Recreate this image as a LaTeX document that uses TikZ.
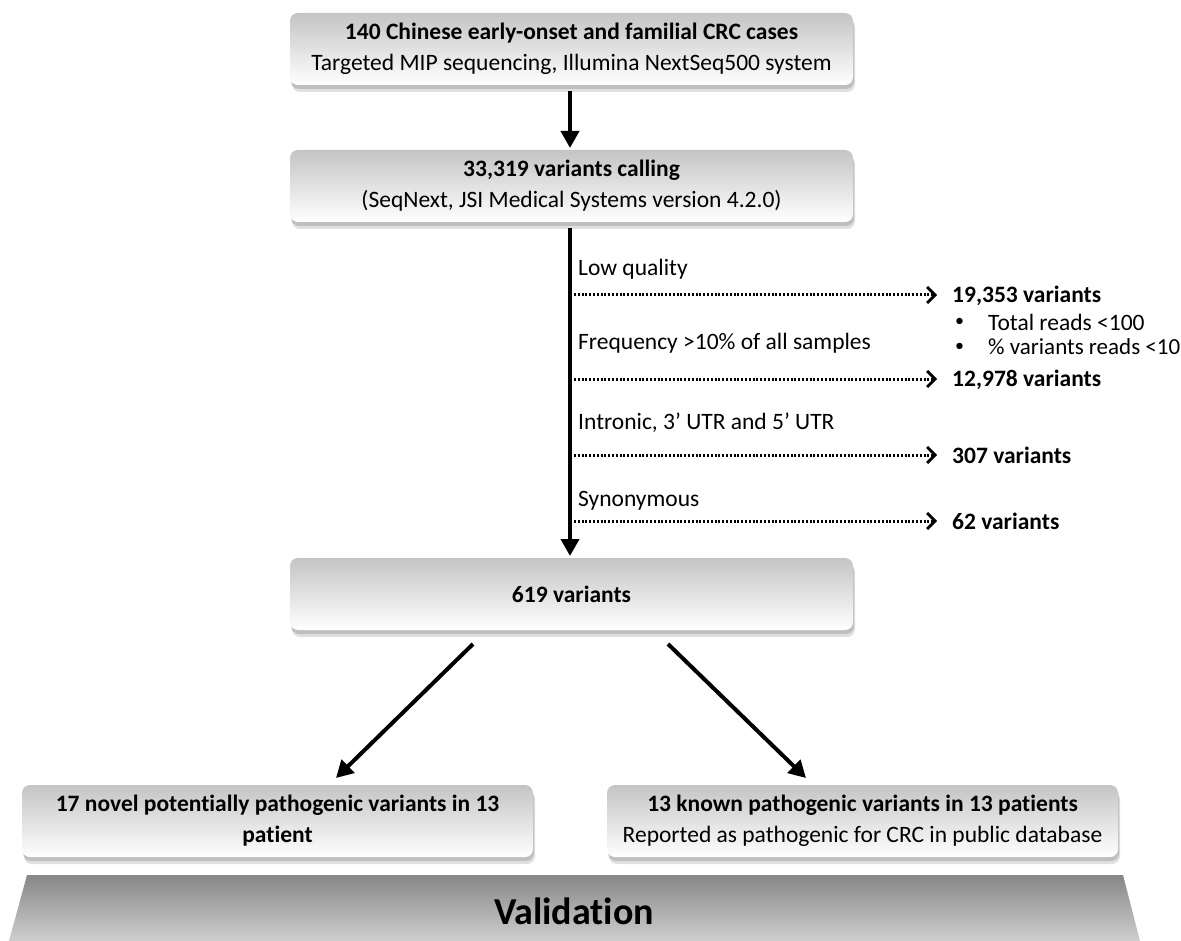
\documentclass[tikz,border=0pt]{standalone}
\usepackage{fontspec}
\setmainfont[Ligatures=NoCommon]{Carlito}
\usetikzlibrary{arrows.meta,shadows,calc}
\tikzset{
  box/.style={draw=none, rounded corners=8pt, top color=black!23, bottom color=white,
    minimum width=563pt, minimum height=72pt, align=center, inner sep=0pt,
    font=\fontsize{23.5}{31}\selectfont,
    drop shadow={opacity=0.12, shadow xshift=2pt, shadow yshift=-7pt, fill=black},
    drop shadow={opacity=0.15, shadow xshift=1pt, shadow yshift=-4pt, fill=black}},
  mainarrow/.style={line width=4pt, -{Triangle[length=17pt,width=18pt]}},
  filt/.style={line width=3pt, dash pattern=on 2pt off 1.8pt,
    -{Straight Barb[length=8pt,width=16pt,line width=2.8pt]}, shorten >=1pt},
  lbl/.style={anchor=west, inner sep=0pt, font=\fontsize{23.5}{28}\selectfont},
  res/.style={anchor=west, inner sep=0pt, font=\fontsize{23.5}{28}\selectfont\bfseries},
}
\begin{document}
\begin{tikzpicture}[x=1pt,y=1pt]
\useasboundingbox (0,0) rectangle (1181,-941);
% boxes
\node[box] (b1) at (571.5,-49) {\textbf{140 Chinese early-onset and familial CRC cases}\\Targeted MIP sequencing, Illumina NextSeq500 system};
\node[box] (b2) at (571.5,-186) {\textbf{33,319 variants calling}\\(SeqNext, JSI Medical Systems version 4.2.0)};
\node[box] (b3) at (571.5,-594) {\textbf{619 variants}};
\node[box, minimum width=511pt] (b4) at (277.5,-821) {\textbf{17 novel potentially pathogenic variants in 13}\\\textbf{patient}};
\node[box, minimum width=511pt] (b5) at (862.5,-821) {\textbf{13 known pathogenic variants in 13 patients}\\Reported as pathogenic for CRC in public database};
% main arrows
\draw[mainarrow] (570,-91) -- (570,-148);
\draw[line width=4pt] (570,-228) -- (570,-540);
\draw[mainarrow] (570,-530) -- (570,-556);
\coordinate (d1s) at (473,-644);
\coordinate (d1e) at (336,-778);
\coordinate (d2s) at (668,-644);
\coordinate (d2e) at (806,-778);
\draw[mainarrow] (d1s) -- (d1e);
\draw[mainarrow] (d2s) -- (d2e);
% filters
\node[lbl] (l1) at (578,-269) {Low quality};
\node[lbl] (l2) at (578,-343) {Frequency {>}10\% of all samples};
\node[lbl] (l3) at (578,-423) {Intronic, 3’ UTR and 5’ UTR};
\node[lbl] (l4) at (578,-501) {Synonymous};
\node[res] (r1) at (952,-296) {19,353 variants};
\node[res] (r2) at (952,-380) {12,978 variants};
\node[res] (r3) at (952,-455) {307 variants};
\node[res] (r4) at (952,-521) {62 variants};
\node[lbl, font=\fontsize{18}{20}\selectfont] (bu1) at (955,-322) {•};
\node[lbl] (t1) at (988,-322) {Total reads {<}100};
\node[lbl, font=\fontsize{18}{20}\selectfont] (bu2) at (955,-347) {•};
\node[lbl, font=\fontsize{23}{28}\selectfont] (t2) at (988,-347) {\% variants reads {<}10};
\coordinate (f1) at (574,-295);
\coordinate (f2) at (574,-379);
\coordinate (f3) at (574,-455);
\coordinate (f4) at (574,-521);
\draw[filt] (f1) -- ($(f1 -| r1.west)+(-14,0)$);
\draw[filt] (f2) -- ($(f2 -| r2.west)+(-14,0)$);
\draw[filt] (f3) -- ($(f3 -| r3.west)+(-14,0)$);
\draw[filt] (f4) -- ($(f4 -| r4.west)+(-14,0)$);
% validation
\shade[top color=black!47, bottom color=black!19] (27,-875) -- (1123,-875) -- (1140,-941) -- (9,-941) -- cycle;
\node[font=\fontsize{38}{44}\selectfont\bfseries] (v) at (574,-911) {Validation};
\end{tikzpicture}
\end{document}
